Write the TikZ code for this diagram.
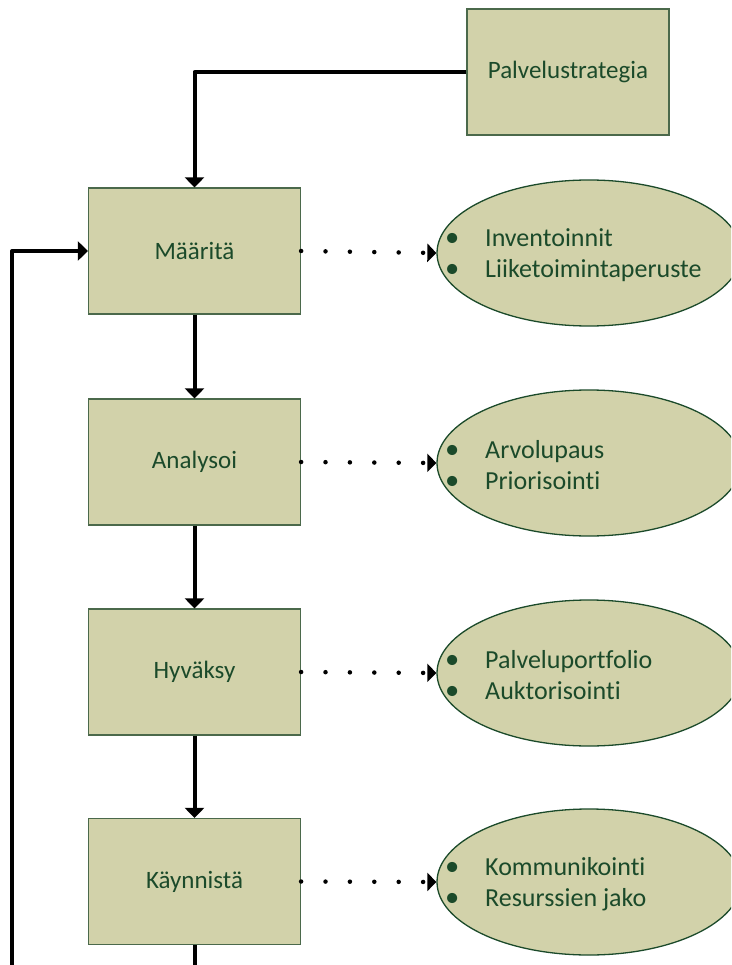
\documentclass[tikz,border=0pt]{standalone}
\usepackage{fontspec}
\setmainfont{Carlito}[Ligatures=NoCommon]
\usetikzlibrary{arrows.meta,shapes.geometric}
\definecolor{boxfill}{RGB}{210,210,170}
\definecolor{boxline}{RGB}{75,105,75}
\definecolor{txtgreen}{RGB}{27,74,42}

\begin{document}
\begin{tikzpicture}[x=1pt,y=-1pt,
  phase/.style={draw=boxline, line width=1.2pt, fill=boxfill,
    minimum width=212pt, minimum height=126pt, inner sep=0pt,
    text=txtgreen, font=\fontsize{25}{30}\selectfont},
  outcome/.style={ellipse, draw=txtgreen, line width=1.3pt, fill=boxfill,
    minimum width=304pt, minimum height=146pt, inner sep=0pt},
  itemlist/.style={anchor=west, inner sep=0pt, text=txtgreen,
    font=\fontsize{26}{30.5}\selectfont, align=left},
  flow/.style={line width=4pt, line join=round,
    -{Triangle[width=19pt,length=10pt]}},
  link/.style={line width=4.5pt, line cap=round,
    dash pattern=on 0pt off 24.4pt,
    -{Triangle[width=18pt,length=9pt]}}
]
\useasboundingbox (0,0) rectangle (731,965);
\clip (0,0) rectangle (731,965);

% strategy input
\node[phase, minimum width=202pt] (strat) at (568,72) {Palvelustrategia};

% process steps
\node[phase] (s1) at (194.5,251) {Määritä};
\node[phase] (s2) at (194.5,462) {Analysoi};
\node[phase] (s3) at (194.5,672) {Hyväksy};
\node[phase] (s4) at (194.5,881.5) {Käynnistä};

% outputs of each step
\node[outcome] (o1) at (589,253) {};
\node[outcome] (o2) at (589,463) {};
\node[outcome] (o3) at (589,673) {};
\node[outcome] (o4) at (589,882) {};

\newcommand{\bul}{\makebox[40pt][l]{\scalebox{1.1}{\textbullet}}}
\node[itemlist] (t1) at (445,255) {\bul Inventoinnit\\\bul Liiketoimintaperuste};
\node[itemlist] (t2) at (445,465) {\bul Arvolupaus\\\bul Priorisointi};
\node[itemlist] (t3) at (445,675) {\bul Palveluportfolio\\\bul Auktorisointi};
\node[itemlist] (t4) at (445,884) {\bul Kommunikointi\\\bul Resurssien jako};

% main flow
\draw[flow] (strat.west) -| (s1.north);
\draw[flow] (s1) -- (s2);
\draw[flow] (s2) -- (s3);
\draw[flow] (s3) -- (s4);

% continuation and feedback loop
\coordinate (down) at (194.5,975);
\coordinate (loop) at (12,975);
\draw[line width=4pt] (s4.south) -- (down);
\draw[flow] (loop) |- (s1.west);

% dotted links to outputs
\draw[link] (s1.east) -- (o1.west);
\draw[link] (s2.east) -- (o2.west);
\draw[link] (s3.east) -- (o3.west);
\draw[link] (s4.east) -- (o4.west);
\end{tikzpicture}
\end{document}
